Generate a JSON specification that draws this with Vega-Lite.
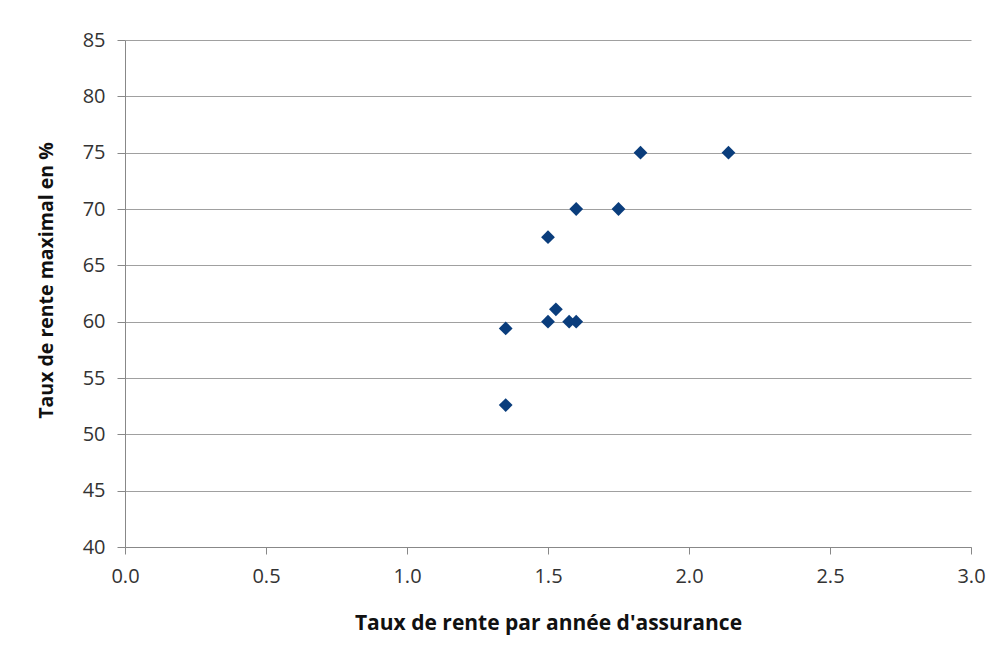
{
  "$schema": "https://vega.github.io/schema/vega-lite/v6.json",
  "width": 846,
  "height": 507,
  "autosize": {"type": "none"},
  "padding": {"left": 125, "top": 40, "right": 32, "bottom": 110},
  "background": "white",
  "config": {
    "view": {"stroke": null},
    "font": "Open Sans"
  },
  "data": {
    "values": [
      {"taux": 1.35, "max": 59.4},
      {"taux": 1.35, "max": 52.6},
      {"taux": 1.5, "max": 60},
      {"taux": 1.5, "max": 67.5},
      {"taux": 1.528, "max": 61.1},
      {"taux": 1.575, "max": 60},
      {"taux": 1.6, "max": 60},
      {"taux": 1.6, "max": 70},
      {"taux": 1.75, "max": 70},
      {"taux": 1.828, "max": 75},
      {"taux": 2.14, "max": 75}
    ]
  },
  "mark": {"type": "point", "shape": "diamond", "filled": true, "size": 190, "color": "#0a3d7c", "opacity": 1},
  "encoding": {
    "x": {
      "field": "taux", "type": "quantitative",
      "scale": {"domain": [0, 3], "nice": false, "zero": false},
      "axis": {
        "values": [0, 0.5, 1, 1.5, 2, 2.5, 3],
        "format": ".1f",
        "grid": false,
        "labelFlush": false,
        "labelOverlap": false,
        "domainColor": "#888888",
        "tickColor": "#888888",
        "tickSize": 7,
        "labelFontSize": 20,
        "labelColor": "#333333",
        "labelPadding": 12,
        "title": "Taux de rente par année d'assurance",
        "titleFontSize": 21,
        "titleFontWeight": "bold",
        "titleColor": "#111111",
        "titlePadding": 26
      }
    },
    "y": {
      "field": "max", "type": "quantitative",
      "scale": {"domain": [40, 85], "nice": false, "zero": false},
      "axis": {
        "values": [40, 45, 50, 55, 60, 65, 70, 75, 80, 85],
        "grid": true,
        "labelFlush": false,
        "labelOverlap": false,
        "gridColor": "#a0a0a0",
        "domainColor": "#888888",
        "tickColor": "#888888",
        "tickSize": 8,
        "labelFontSize": 20,
        "labelColor": "#333333",
        "labelPadding": 12,
        "title": "Taux de rente maximal en %",
        "titleFontSize": 19.5,
        "titleFontWeight": "bold",
        "titleColor": "#111111",
        "titlePadding": 26,
        "titleY": 240
      }
    }
  }
}
